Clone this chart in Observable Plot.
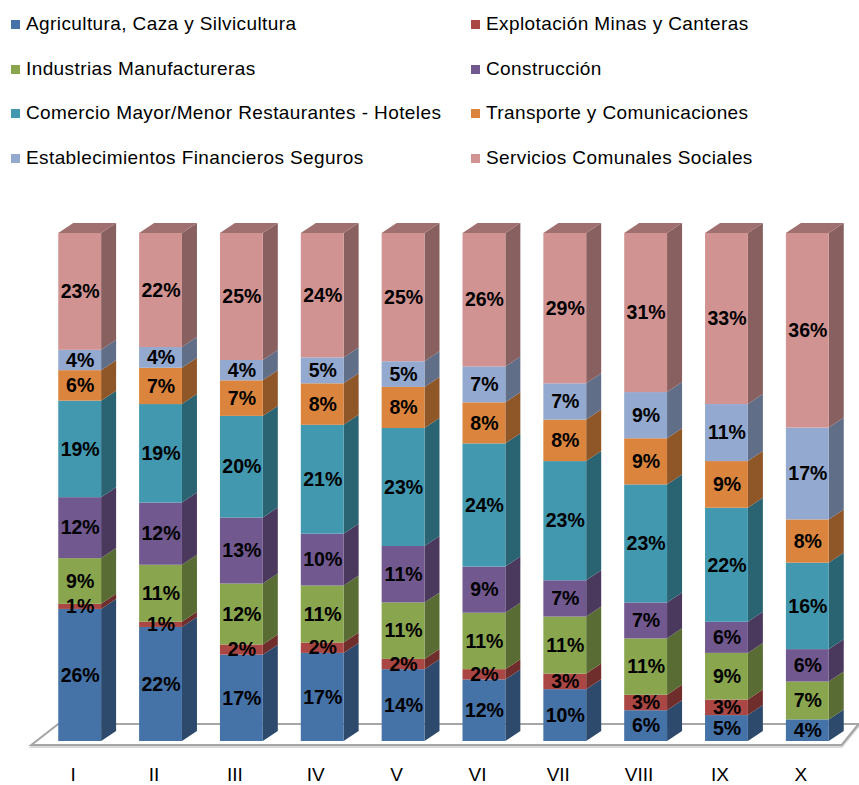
<!DOCTYPE html>
<html>
<head>
<meta charset="utf-8">
<script src="https://cdn.jsdelivr.net/npm/d3@7"></script>
<script src="https://cdn.jsdelivr.net/npm/@observablehq/plot@0.6"></script>
<style>
  html, body { margin: 0; padding: 0; background: #fff; }
  body { width: 859px; height: 785px; overflow: hidden; font-family: "Liberation Sans", Arial, sans-serif; }
  #legend { position: relative; height: 180px; }
  .item { position: absolute; font-size: 19px; letter-spacing: 0.4px; color: #000; white-space: nowrap; line-height: 1; }
  .sw { display: inline-block; width: 9px; height: 9px; margin-right: 6px; vertical-align: 1px; }
</style>
</head>
<body>
<div id="legend"></div>
<div id="chart"></div>
<script>
const periods = ["I", "II", "III", "IV", "V", "VI", "VII", "VIII", "IX", "X"];
const sectors = [
  "Agricultura, Caza y Silvicultura",
  "Explotación Minas y Canteras",
  "Industrias Manufactureras",
  "Construcción",
  "Comercio Mayor/Menor Restaurantes - Hoteles",
  "Transporte y Comunicaciones",
  "Establecimientos Financieros Seguros",
  "Servicios Comunales Sociales"
];
const colors = ["#4572A7", "#AA4643", "#89A54E", "#71588F", "#4198AF", "#DB843D", "#93A9CF", "#D19392"];

const agricultura   = [26, 22, 17, 17, 14, 12, 10, 6, 5, 4];
const mineria       = [1, 1, 2, 2, 2, 2, 3, 3, 3, 0];
const manufactura   = [9, 11, 12, 11, 11, 11, 11, 11, 9, 7];
const construccion  = [12, 12, 13, 10, 11, 9, 7, 7, 6, 6];
const comercio      = [19, 19, 20, 21, 23, 24, 23, 23, 22, 16];
const transporte    = [6, 7, 7, 8, 8, 8, 8, 9, 9, 8];
const financieros   = [4, 4, 4, 5, 5, 7, 7, 9, 11, 17];
const servicios     = [23, 22, 25, 24, 25, 26, 29, 31, 33, 36];

const series = [agricultura, mineria, manufactura, construccion, comercio, transporte, financieros, servicios];
const rows = [];
sectors.forEach((s, k) => periods.forEach((p, i) => rows.push({period: p, sector: s, value: series[k][i]})));

// Legend (two columns, sector order left-to-right, top-to-bottom)
const legend = document.getElementById("legend");
sectors.forEach((s, k) => {
  const col = k % 2, row = Math.floor(k / 2);
  const el = document.createElement("div");
  el.className = "item";
  el.style.left = (col === 0 ? 11 : 471) + "px";
  el.style.top = (14 + row * 44.5) + "px";
  el.innerHTML = `<span class="sw" style="background:${colors[k]}"></span>${s}`;
  legend.appendChild(el);
});

const DX = 15, DY = 10;

function bandwidthOf(scales) {
  if (scales.x && typeof scales.x.bandwidth === "function") return scales.x.bandwidth();
  return scales.scales.x.bandwidth;
}

// 3D box faces drawn from the scaled bar values
function box3d(index, scales, values, dimensions, context, next) {
  const front = next(index, scales, values, dimensions, context);
  const bw = bandwidthOf(scales);
  const g = d3.create("svg:g");
  const topByX = new Map();
  for (const i of index) {
    const x0 = values.x[i];
    const t = Math.min(values.y1[i], values.y2[i]);
    if (!topByX.has(x0) || t < topByX.get(x0)) topByX.set(x0, t);
  }
  for (const i of index) {
    const x0 = values.x[i];
    const yb = Math.max(values.y1[i], values.y2[i]);
    const yt = Math.min(values.y1[i], values.y2[i]);
    if (yb - yt < 0.01) continue;
    const c = values.fill[i];
    const xr = x0 + bw;
    g.append("polygon")
      .attr("points", [[xr, yb], [xr + DX, yb - DY], [xr + DX, yt - DY], [xr, yt]].join(" "))
      .attr("fill", d3.color(c).darker(1.2).formatHex());
    if (Math.abs(yt - topByX.get(x0)) < 0.01) {
      g.append("polygon")
        .attr("points", [[x0, yt], [x0 + DX, yt - DY], [xr + DX, yt - DY], [xr, yt]].join(" "))
        .attr("fill", d3.color(c).darker(0.75).formatHex());
    }
  }
  g.append(() => front);
  return g.node();
}

// Floor plane under the bars, positioned from the scales
function floor(index, scales, values, dimensions) {
  const bw = bandwidthOf(scales);
  const y0 = scales.y(0);
  const xs = periods.map(p => scales.x(p));
  const left = xs[0], right = xs[xs.length - 1] + bw;
  const pts = [[left - 27, y0 + 4], [left, y0 - 17], [right + 30, y0 - 17], [right + 13, y0 + 4]];
  const g = d3.create("svg:g");
  g.append("polygon")
    .attr("points", pts.map(([a, b]) => [a, b + 2]).join(" "))
    .attr("fill", "none").attr("stroke", "#d9d9d9").attr("stroke-width", 2);
  g.append("polygon")
    .attr("points", pts.join(" "))
    .attr("fill", "#fff").attr("stroke", "#a6a6a6").attr("stroke-width", 2.2);
  return g.node();
}

const chart = Plot.plot({
  width: 859,
  height: 605,
  marginTop: 53,
  marginBottom: 44,
  marginLeft: 34,
  marginRight: 6,
  style: {fontFamily: "'Liberation Sans', Arial, sans-serif", background: "#fff"},
  x: {domain: periods, paddingInner: 0.47, paddingOuter: 0.3, round: false, label: null},
  y: {domain: [0, 1], axis: null},
  color: {domain: sectors, range: colors},
  marks: [
    Plot.ruleY([0], {render: floor}),
    Plot.barY(rows, Plot.stackY({
      x: "period", y: "value", fill: "sector", z: "sector",
      order: sectors, offset: "normalize", render: box3d
    })),
    Plot.text(rows.filter(d => d.value > 0), Plot.stackY({
      x: "period", y: "value", z: "sector",
      order: sectors, offset: "normalize",
      text: d => d.value + "%",
      fontSize: 19.5, fontWeight: "bold", fill: "#000"
    })),
    Plot.axisX({tickSize: 0, tickPadding: 26, dx: -7, fontSize: 19, label: null, fill: "#000"})
  ]
});
document.getElementById("chart").appendChild(chart);
</script>
</body>
</html>
